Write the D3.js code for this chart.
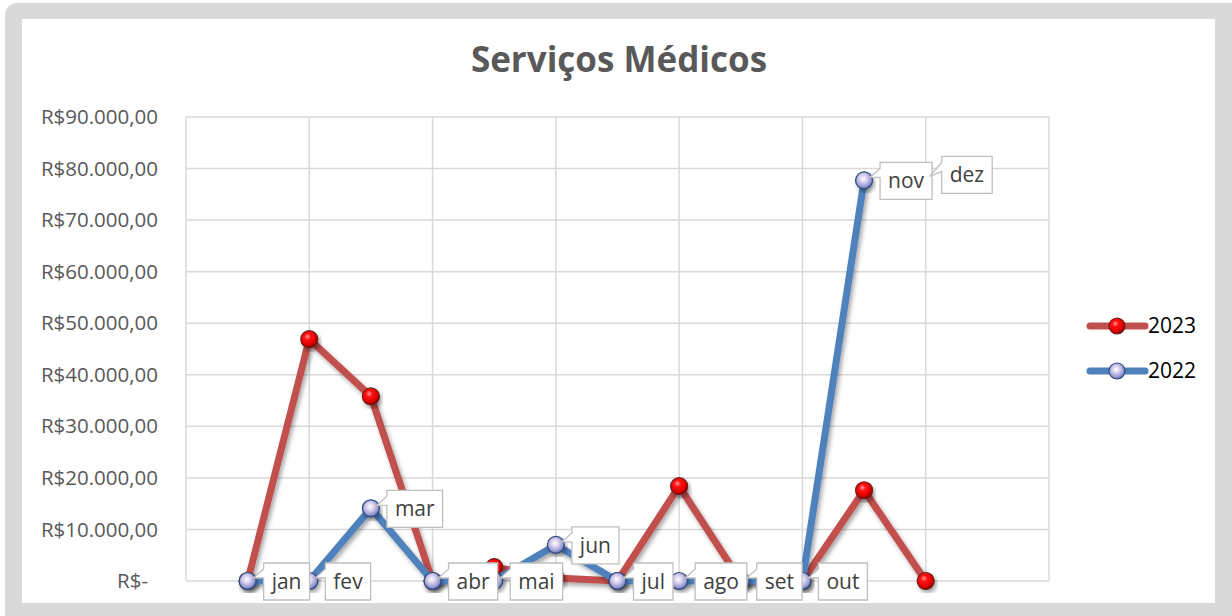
<!DOCTYPE html>
<html>
<head>
<meta charset="utf-8">
<script src="https://cdn.jsdelivr.net/npm/d3@7"></script>
<style>
  body { margin: 0; background: #fff; }
  svg { display: block; font-family: "Open Sans", "Noto Sans", sans-serif; }
</style>
</head>
<body>
<div id="chart"></div>
<script>
// data
var months = ["jan", "fev", "mar", "abr", "mai", "jun", "jul", "ago", "set", "out", "nov", "dez"];
var values2023 = [0, 46900, 35800, 0, 2700, 600, 0, 18400, 0, 0, 17600, 0];
var values2022 = [0, 0, 14100, 0, 0, 7000, 0, 0, 0, 0, 77700, null];
var yTicks = [0, 10000, 20000, 30000, 40000, 50000, 60000, 70000, 80000, 90000];

var width = 1232, height = 616;

var svg = d3.select('#chart').append('svg')
    .attr("width", width)
    .attr("height", height);

var defs = svg.append("defs");

// glossy markers
var gRed = defs.append("radialGradient").attr("id", "gRed")
    .attr("cx", "40%").attr("cy", "35%").attr("r", "65%");
gRed.append("stop").attr("offset", "0%").attr("stop-color", "#ff9a9a");
gRed.append("stop").attr("offset", "30%").attr("stop-color", "#ff1010");
gRed.append("stop").attr("offset", "75%").attr("stop-color", "#e00000");
gRed.append("stop").attr("offset", "100%").attr("stop-color", "#7a0000");

var gBlue = defs.append("radialGradient").attr("id", "gBlue")
    .attr("cx", "45%").attr("cy", "40%").attr("r", "65%");
gBlue.append("stop").attr("offset", "0%").attr("stop-color", "#ffffff");
gBlue.append("stop").attr("offset", "35%").attr("stop-color", "#d8d0ec");
gBlue.append("stop").attr("offset", "75%").attr("stop-color", "#8f94cf");
gBlue.append("stop").attr("offset", "100%").attr("stop-color", "#2f3f86");

var shadow = defs.append("filter").attr("id", "shadow")
    .attr("x", "-20%").attr("y", "-20%").attr("width", "140%").attr("height", "140%");
shadow.append("feDropShadow").attr("dx", 2).attr("dy", 3).attr("stdDeviation", 2)
    .attr("flood-color", "#000").attr("flood-opacity", 0.35);

// frame
svg.append("rect").attr("x", 5).attr("y", 3).attr("width", 1300).attr("height", 700)
    .attr("rx", 12).attr("fill", "#d9d9d9");
svg.append("rect").attr("x", 22).attr("y", 19).attr("width", 1193).attr("height", 584)
    .attr("fill", "#fff");

// title
svg.append("text")
    .attr("x", 619).attr("y", 72)
    .attr("text-anchor", "middle")
    .attr("font-size", 35).attr("font-weight", "bold")
    .attr("fill", "#595959")
    .text("Serviços Médicos");

var x = d3.scaleLinear().domain([0, 14]).range([186, 1049]);
var y = d3.scaleLinear().domain([0, 90000]).range([581, 117]);

// grid
svg.append("g").selectAll("line")
    .data(yTicks).enter().append("line")
    .attr("x1", x(0)).attr("x2", x(14))
    .attr("y1", d => y(d)).attr("y2", d => y(d))
    .attr("stroke", "#d9d9d9").attr("stroke-width", 1.5);
svg.append("g").selectAll("line")
    .data(d3.range(0, 15, 2)).enter().append("line")
    .attr("x1", d => x(d)).attr("x2", d => x(d))
    .attr("y1", y(0)).attr("y2", y(90000))
    .attr("stroke", "#d9d9d9").attr("stroke-width", 1.5);

// y axis
var fmt = d3.formatLocale({ decimal: ",", thousands: ".", grouping: [3], currency: ["R$", ""] }).format("$,.2f");
var yAxis = svg.append("g")
    .attr("transform", "translate(158,0)")
    .call(d3.axisLeft(y).tickValues(yTicks).tickSize(0).tickPadding(0)
        .tickFormat(d => d === 0 ? "R$-" : fmt(d)));
yAxis.select(".domain").remove();
yAxis.selectAll("text")
    .attr("font-size", 20.5)
    .attr("fill", "#595959")
    .attr("font-family", "Open Sans, sans-serif")
    .attr("dx", d => d === 0 ? -10 : 0);

var line = d3.line()
    .defined(d => d != null)
    .x((d, i) => x(i + 1))
    .y(d => y(d));

function drawSeries(vals, color, grad, stroke) {
    var g = svg.append("g");
    g.append("path")
        .datum(vals)
        .attr("d", line)
        .attr("fill", "none")
        .attr("stroke", color)
        .attr("stroke-width", 7)
        .attr("stroke-linejoin", "round")
        .attr("filter", "url(#shadow)");
    g.selectAll("circle")
        .data(vals.map((v, i) => ({ v: v, i: i })).filter(d => d.v != null))
        .enter().append("circle")
        .attr("cx", d => x(d.i + 1))
        .attr("cy", d => y(d.v))
        .attr("r", 8.5)
        .attr("fill", "url(#" + grad + ")")
        .attr("stroke", stroke)
        .attr("stroke-width", 1.2)
        .attr("filter", "url(#shadow)");
}

drawSeries(values2023, "#c0504d", "gRed", "#6e1f1d");
drawSeries(values2022, "#4f81bd", "gBlue", "#2c4a7e");

// data labels (category names) for 2022
var labels = svg.append("g");
months.forEach(function (m, i) {
    var px = x(i + 1);
    var v = values2022[i];
    var py = v != null ? y(v) : y(values2022[10]) - 6;
    var t = labels.append("text")
        .attr("font-size", 21)
        .attr("fill", "#404040")
        .text(m);
    var w = t.node().getComputedTextLength() + 16;
    var L = px + 16, T = py - 18, R = L + w, B = py + 19;
    var tipX = px + 6, tipY = py - 3;
    if (v == null) { tipX = px + 4; tipY = py + 2; }
    labels.insert("path", "text:last-child")
        .attr("d", "M" + L + "," + T + "H" + R + "V" + B + "H" + L + "V" + (T + 15) +
            "L" + tipX + "," + tipY + "L" + L + "," + (T + 6) + "Z")
        .attr("fill", "#fff")
        .attr("stroke", "#bfbfbf")
        .attr("stroke-width", 1.3);
    t.attr("x", L + w / 2).attr("y", py + 8).attr("text-anchor", "middle").raise();
});

// legend
var legend = [
    { name: "2023", color: "#c0504d", grad: "gRed", stroke: "#6e1f1d", y: 326 },
    { name: "2022", color: "#4f81bd", grad: "gBlue", stroke: "#2c4a7e", y: 371 }
];
var lg = svg.append("g").selectAll("g").data(legend).enter().append("g");
lg.append("line")
    .attr("x1", 1090).attr("x2", 1145)
    .attr("y1", d => d.y).attr("y2", d => d.y)
    .attr("stroke", d => d.color).attr("stroke-width", 7)
    .attr("stroke-linecap", "round");
lg.append("circle")
    .attr("cx", 1117).attr("cy", d => d.y).attr("r", 8)
    .attr("fill", d => "url(#" + d.grad + ")")
    .attr("stroke", d => d.stroke).attr("stroke-width", 1.2);
lg.append("text")
    .attr("x", 1148).attr("y", d => d.y + 7)
    .attr("font-size", 21).attr("fill", "#000")
    .text(d => d.name);
</script>
</body>
</html>
